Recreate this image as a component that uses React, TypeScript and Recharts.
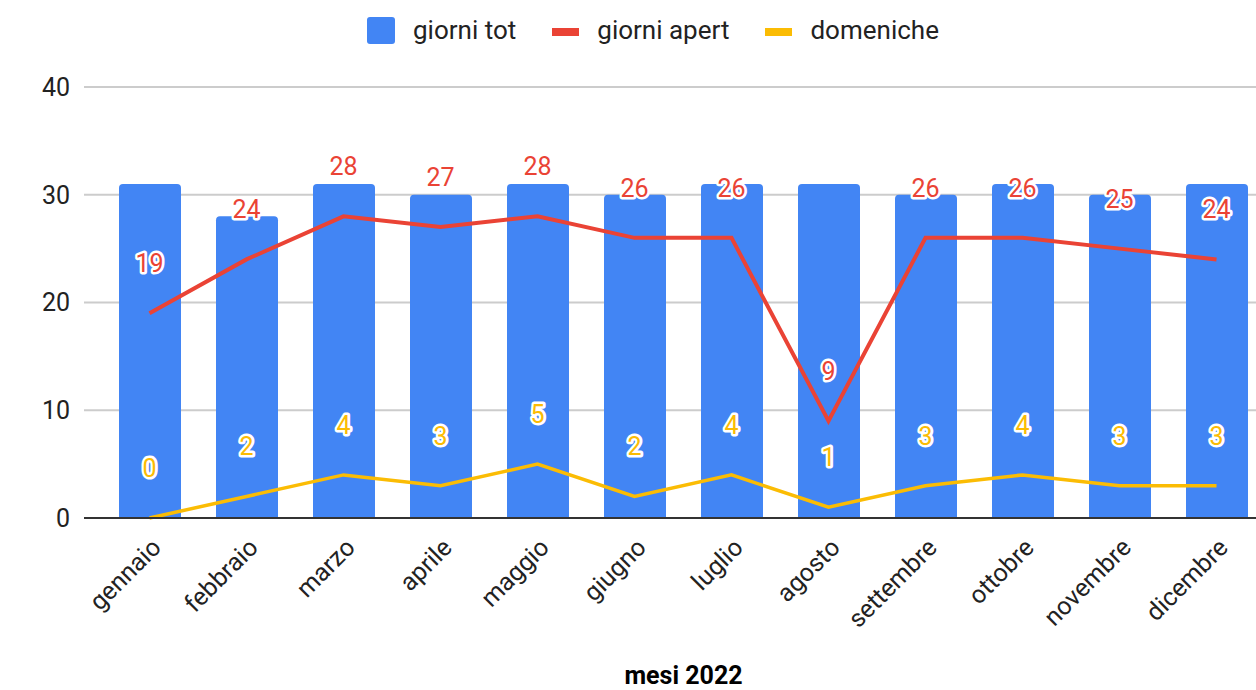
import React from 'react';
import {
  ComposedChart,
  Bar,
  Line,
  XAxis,
  YAxis,
  CartesianGrid,
  Legend,
  LabelList,
} from 'recharts';

const months = [
  'gennaio', 'febbraio', 'marzo', 'aprile', 'maggio', 'giugno',
  'luglio', 'agosto', 'settembre', 'ottobre', 'novembre', 'dicembre',
];
const giorniTot = [31, 28, 31, 30, 31, 30, 31, 31, 30, 31, 30, 31];
const giorniApert = [19, 24, 28, 27, 28, 26, 26, 9, 26, 26, 25, 24];
const domeniche = [0, 2, 4, 3, 5, 2, 4, 1, 3, 4, 3, 3];
const yTicks = [0, 10, 20, 30, 40];

const BLUE = '#4285F4';
const RED = '#EA4335';
const YELLOW = '#FBBC04';
const FONT = 'Roboto, Arial, sans-serif';

const data = months.map((m, i) => ({
  mese: m,
  tot: giorniTot[i],
  apert: giorniApert[i],
  dom: domeniche[i],
}));

const legendItems = [
  { name: 'giorni tot', color: BLUE, kind: 'box' },
  { name: 'giorni apert', color: RED, kind: 'line' },
  { name: 'domeniche', color: YELLOW, kind: 'line' },
];

function ChartLegend() {
  return (
    <div style={{ display: 'flex', alignItems: 'center', fontFamily: FONT, fontSize: 26, color: '#222' }}>
      {legendItems.map((it, i) => (
        <div key={it.name} style={{ display: 'flex', alignItems: 'center', marginLeft: i === 0 ? 0 : 36 }}>
          {it.kind === 'box' ? (
            <div style={{ width: 28, height: 27, background: it.color, borderRadius: 3 }} />
          ) : (
            <div style={{ width: 27, height: 8, background: it.color, marginTop: 4 }} />
          )}
          <span style={{ marginLeft: 18 }}>{it.name}</span>
        </div>
      ))}
    </div>
  );
}

const makeLabel = (color: string) => (props: any) => {
  const { x, y, value } = props;
  return (
    <text
      x={x}
      y={y - 41}
      textAnchor="middle"
      fill={color}
      stroke="#fff"
      strokeWidth={5}
      strokeLinejoin="round"
      paintOrder="stroke"
      fontSize={25}
      fontFamily={FONT}
    >
      {value}
    </text>
  );
};

const MonthTick = (props: any) => {
  const { x, y, payload } = props;
  const tx = x + 13;
  const ty = y + 23;
  return (
    <text
      x={tx}
      y={ty}
      transform={`rotate(-45, ${tx}, ${ty})`}
      textAnchor="end"
      fill="#222"
      fontSize={25}
      fontFamily={FONT}
    >
      {payload.value}
    </text>
  );
};

export default function App() {
  return (
    <div style={{ position: 'absolute', left: 0, top: 0, width: 1256, height: 690, overflow: 'hidden', background: '#fff' }}>
      <ComposedChart
        width={1272}
        height={690}
        data={data}
        margin={{ top: 87, right: 7, bottom: 0, left: 0 }}
      >
        <CartesianGrid vertical={false} stroke="#ccc" strokeWidth={2} />
        <XAxis
          dataKey="mese"
          height={172}
          padding={{ left: 17, right: 0 }}
          tickLine={false}
          axisLine={{ stroke: '#333', strokeWidth: 2 }}
          tick={<MonthTick />}
          interval={0}
          label={{
            value: 'mesi 2022',
            position: 'insideBottom',
            offset: 6,
            dx: 9,
            fontSize: 25,
            fontWeight: 'bold',
            fill: '#000',
            fontFamily: FONT,
          }}
        />
        <YAxis
          width={84}
          domain={[0, 40]}
          ticks={yTicks}
          tickLine={false}
          axisLine={false}
          tickMargin={8}
          tick={{ fill: '#222', fontSize: 25, fontFamily: FONT }}
        />
        <Legend
          verticalAlign="middle"
          wrapperStyle={{ top: 15, left: 367 }}
          content={() => <ChartLegend />}
        />
        <Bar dataKey="tot" name="giorni tot" fill={BLUE} barSize={62} radius={[4, 4, 0, 0]} isAnimationActive={false} />
        <Line
          type="linear"
          dataKey="apert"
          name="giorni apert"
          stroke={RED}
          strokeWidth={4}
          dot={false}
          activeDot={false}
          isAnimationActive={false}
        >
          <LabelList dataKey="apert" content={makeLabel(RED)} />
        </Line>
        <Line
          type="linear"
          dataKey="dom"
          name="domeniche"
          stroke={YELLOW}
          strokeWidth={3.5}
          dot={false}
          activeDot={false}
          isAnimationActive={false}
        >
          <LabelList dataKey="dom" content={makeLabel(YELLOW)} />
        </Line>
      </ComposedChart>
    </div>
  );
}
